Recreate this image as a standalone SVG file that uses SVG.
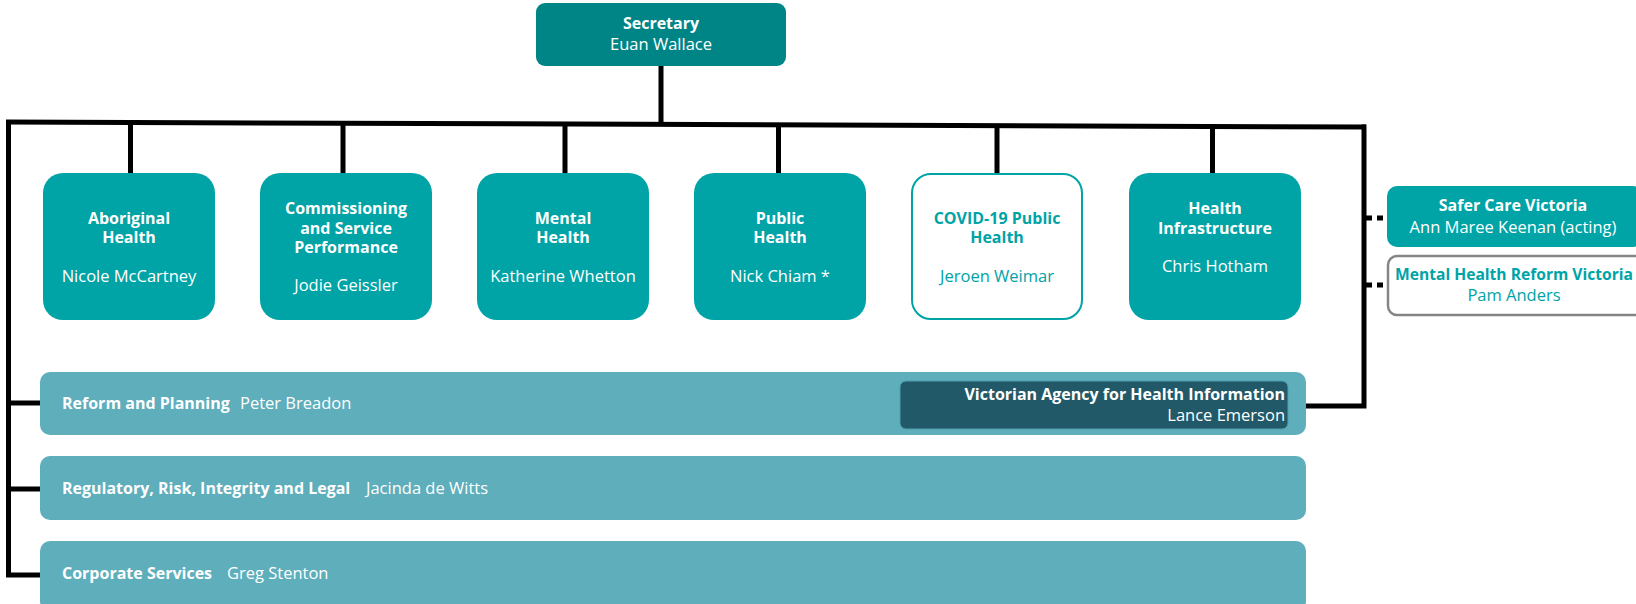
<svg xmlns="http://www.w3.org/2000/svg" width="1636" height="604" viewBox="0 0 1636 604">
<style>
text{font-family:"Open Sans","Liberation Sans",sans-serif;}
.t{font-weight:700;font-size:16px;fill:#fff;text-anchor:middle;}
.n{font-size:16.5px;fill:#fff;text-anchor:middle;}
.tc{font-weight:700;font-size:16px;fill:#00a3a6;text-anchor:middle;}
.nc{font-size:16.5px;fill:#00a3a6;text-anchor:middle;}
.box{fill:#00a3a6;}
.bar{fill:#5eaebc;}
.bt{font-weight:700;font-size:16px;fill:#fff;}
.bn{font-size:16.5px;fill:#fff;}
.ln{stroke:#000;stroke-width:5;fill:none;}
.dot{stroke:#000;stroke-width:5;fill:none;stroke-dasharray:6 5;}
</style>
<g id="connectors">
<path class="ln" d="M661 66V125"/>
<path class="ln" d="M6 122L1366 127"/>
<path class="ln" d="M8.5 120V577"/>
<path class="ln" d="M1364 124.5V406H1289"/>
<path class="ln" d="M130.5 123V173M343 124V173M565 124.5V173M778.5 125V173M997 125.5V173M1212.5 126V173"/>
<path class="ln" d="M6 403H40M6 489H40M6 575H40"/>
<path class="dot" d="M1366 218H1388M1366 285H1388"/>
</g>
<g id="secretary">
<rect x="536" y="3" width="250" height="63" rx="9" fill="#008587"/>
<text class="t" x="661" y="29">Secretary</text>
<text class="n" x="661" y="50">Euan Wallace</text>
</g>
<g id="aboriginal-health">
<rect class="box" x="43" y="173" width="172" height="147" rx="20"/>
<text class="t" x="129" y="223.5">Aboriginal</text>
<text class="t" x="129" y="242.5">Health</text>
<text class="n" x="129" y="281.5">Nicole McCartney</text>
</g>
<g id="commissioning">
<rect class="box" x="260" y="173" width="172" height="147" rx="20"/>
<text class="t" x="346" y="213.5">Commissioning</text>
<text class="t" x="346" y="233.5">and Service</text>
<text class="t" x="346" y="252.5">Performance</text>
<text class="n" x="346" y="290.5">Jodie Geissler</text>
</g>
<g id="mental-health">
<rect class="box" x="477" y="173" width="172" height="147" rx="20"/>
<text class="t" x="563" y="223.5">Mental</text>
<text class="t" x="563" y="242.5">Health</text>
<text class="n" x="563" y="281.5">Katherine Whetton</text>
</g>
<g id="public-health">
<rect class="box" x="694" y="173" width="172" height="147" rx="20"/>
<text class="t" x="780" y="223.5">Public</text>
<text class="t" x="780" y="242.5">Health</text>
<text class="n" x="780" y="281.5">Nick Chiam *</text>
</g>
<g id="covid">
<rect x="912" y="174" width="170" height="145" rx="19" fill="#fff" stroke="#00a3a6" stroke-width="2"/>
<text class="tc" x="997" y="223.5">COVID-19 Public</text>
<text class="tc" x="997" y="242.5">Health</text>
<text class="nc" x="997" y="281.5">Jeroen Weimar</text>
</g>
<g id="health-infrastructure">
<rect class="box" x="1129" y="173" width="172" height="147" rx="20"/>
<text class="t" x="1215" y="213.5">Health</text>
<text class="t" x="1215" y="233.5">Infrastructure</text>
<text class="n" x="1215" y="271.5">Chris Hotham</text>
</g>
<g id="safer-care">
<rect class="box" x="1387" y="186" width="256" height="61" rx="10"/>
<text class="t" x="1513" y="211">Safer Care Victoria</text>
<text class="n" x="1513" y="233">Ann Maree Keenan (acting)</text>
</g>
<g id="mh-reform">
<rect x="1388" y="256" width="256" height="59" rx="9" fill="#fff" stroke="#858585" stroke-width="2.5"/>
<text class="tc" x="1514" y="279.5" font-size="15.5px" textLength="238" lengthAdjust="spacingAndGlyphs">Mental Health Reform Victoria</text>
<text class="nc" x="1514" y="300.5">Pam Anders</text>
</g>
<g id="reform-planning">
<rect class="bar" x="40" y="372" width="1266" height="63" rx="10"/>
<text class="bt" x="62" y="408.5">Reform and Planning</text>
<text class="bn" x="240" y="408.5">Peter Breadon</text>
</g>
<g id="vahi">
<rect x="900" y="381" width="388" height="48" rx="6" fill="#225968" stroke="#4f9fae" stroke-width="1"/>
<text class="bt" x="1285" y="399.5" text-anchor="end">Victorian Agency for Health Information</text>
<text class="bn" x="1285" y="420.5" text-anchor="end">Lance Emerson</text>
</g>
<g id="regulatory">
<rect class="bar" x="40" y="456" width="1266" height="64" rx="10"/>
<text class="bt" x="62" y="493.5">Regulatory, Risk, Integrity and Legal</text>
<text class="bn" x="366" y="493.5">Jacinda de Witts</text>
</g>
<g id="corporate">
<rect class="bar" x="40" y="541" width="1266" height="70" rx="10"/>
<text class="bt" x="62" y="578.5">Corporate Services</text>
<text class="bn" x="227" y="578.5">Greg Stenton</text>
</g>
</svg>
